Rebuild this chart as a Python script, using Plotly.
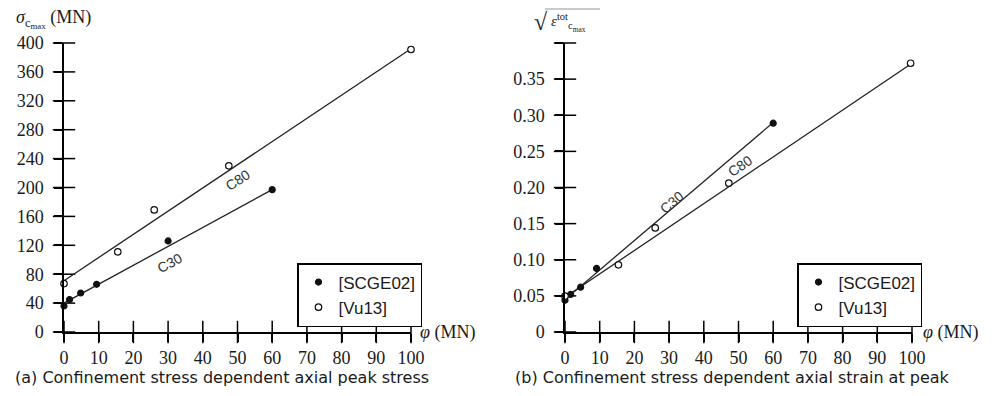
import plotly.graph_objects as go

# ---------------- data ----------------
# (a) peak stress
a_scge_x = [0, 1.6, 4.8, 9.4, 30, 60]
a_scge_y = [36, 45, 54, 66, 126, 197]
a_vu_x = [0, 15.5, 26, 47.5, 100]
a_vu_y = [67, 111, 169, 230, 391]
a_c80_fit_x = [0, 100]
a_c80_fit_y = [71, 392]
a_c30_fit_x = [0, 60]
a_c30_fit_y = [40, 197]

# (b) strain at peak
b_scge_x = [0, 1.6, 4.5, 9.1, 60]
b_scge_y = [0.044, 0.052, 0.062, 0.088, 0.289]
b_vu_x = [0, 15.4, 26, 47.2, 99.6]
b_vu_y = [0.0496, 0.093, 0.144, 0.206, 0.372]
b_c30_fit_x = [0, 60]
b_c30_fit_y = [0.045, 0.29]
b_c80_fit_x = [0, 100]
b_c80_fit_y = [0.048, 0.372]

x_ticks = [0, 10, 20, 30, 40, 50, 60, 70, 80, 90, 100]
a_y_ticks = [0, 40, 80, 120, 160, 200, 240, 280, 320, 360, 400]
b_y_ticks = [0, 0.05, 0.10, 0.15, 0.20, 0.25, 0.30, 0.35, 0.40]
b_y_ticktext = ["0", "0.05", "0.10", "0.15", "0.20", "0.25", "0.30", "0.35", ""]

SERIF = "Liberation Serif"
SANS = "Liberation Sans"
CAPTION = "DejaVu Sans"
INK = "#1a1a1a"

# page body has an 8px margin: build the figure 16px smaller and map reference pixels
OFF = 8
W, H = 996 - 2 * OFF, 396 - 2 * OFF
def px(x):
    return (x - OFF) / W
def py(y):
    return 1 - (y - OFF) / H

fig = go.Figure()

def line(x, y, xa, ya):
    fig.add_trace(go.Scatter(x=x, y=y, mode="lines", xaxis=xa, yaxis=ya,
                             line=dict(color="#222", width=1.3),
                             showlegend=False, hoverinfo="skip", cliponaxis=False))

def pts(x, y, xa, ya, filled, name, legend):
    fig.add_trace(go.Scatter(
        x=x, y=y, mode="markers", xaxis=xa, yaxis=ya, name=name, legend=legend,
        marker=dict(size=6 if filled else 6.5,
                    color="#111" if filled else "white",
                    line=dict(color="#111", width=1.2),
                    symbol="circle"),
        cliponaxis=False))

def tickmarks(vals, xa, ya, horizontal_axis):
    # crossing tick marks (drawn both sides of the axis line) at the tick values
    if horizontal_axis:
        x, y, sym = vals, [0] * len(vals), "line-ns"
    else:
        x, y, sym = [0] * len(vals), vals, "line-ew"
    fig.add_trace(go.Scatter(x=x, y=y, mode="markers", xaxis=xa, yaxis=ya,
                             marker=dict(symbol=sym, size=16,
                                         line=dict(color="#000", width=1.5)),
                             showlegend=False, hoverinfo="skip", cliponaxis=False))

tickmarks(x_ticks, "x", "y", True)
tickmarks(a_y_ticks, "x", "y", False)
tickmarks(x_ticks, "x2", "y2", True)
tickmarks(b_y_ticks, "x2", "y2", False)

line(a_c80_fit_x, a_c80_fit_y, "x", "y")
line(a_c30_fit_x, a_c30_fit_y, "x", "y")
pts(a_scge_x, a_scge_y, "x", "y", True, "[SCGE02]", "legend")
pts(a_vu_x, a_vu_y, "x", "y", False, "[Vu13]", "legend")
line(b_c30_fit_x, b_c30_fit_y, "x2", "y2")
line(b_c80_fit_x, b_c80_fit_y, "x2", "y2")
pts(b_scge_x, b_scge_y, "x2", "y2", True, "[SCGE02]", "legend2")
pts(b_vu_x, b_vu_y, "x2", "y2", False, "[Vu13]", "legend2")

tickfont = dict(family=SERIF, size=18, color=INK)

def axis(domain, anchor, rng, vals, text=None, standoff=0):
    d = dict(domain=domain, anchor=anchor, range=rng, tickmode="array", tickvals=vals,
             showgrid=False, zeroline=False, ticks="outside", ticklen=8, tickwidth=1.5,
             tickcolor="#000000", showline=True, linecolor="#000000", linewidth=1.5,
             tickfont=tickfont, fixedrange=True, automargin=False,
             ticklabelstandoff=standoff)
    if text is not None:
        d["ticktext"] = text
    return d

xdomA = [px(64), px(411)]
xdomB = [px(565), px(912)]
ydom = [py(332), py(43)]

legend_common = dict(bgcolor="white", bordercolor="black", borderwidth=1.5,
                     font=dict(family=SANS, size=17, color=INK),
                     xanchor="left", yanchor="top", itemsizing="trace",
                     tracegroupgap=0, itemwidth=30)

fig.update_layout(
    template="simple_white",
    width=W, height=H, margin=dict(l=0, r=0, t=0, b=0, autoexpand=False),
    paper_bgcolor="white", plot_bgcolor="white",
    xaxis=axis(xdomA, "y", [0, 100], x_ticks, standoff=1),
    yaxis=axis(ydom, "x", [0, 400], a_y_ticks, standoff=7),
    xaxis2=axis(xdomB, "y2", [0, 100], x_ticks, standoff=1),
    yaxis2=axis(ydom, "x2", [0, 0.4], b_y_ticks, b_y_ticktext, standoff=7),
    legend=dict(x=px(297), y=py(263), **legend_common),
    legend2=dict(x=px(797), y=py(263), **legend_common),
)

ann = []
def txt(text, x, y, xanchor="left", yanchor="middle", font=None, **kw):
    ann.append(dict(text=text, x=px(x), y=py(y), xref="paper", yref="paper",
                    xanchor=xanchor, yanchor=yanchor, showarrow=False,
                    font=font or dict(family=SERIF, size=18, color=INK), **kw))

txt("<i>σ</i><sub>c<sub>max</sub></sub> (MN)", 14, 19)
txt("<i>φ</i> (MN)", 418, 332)
txt("<i>φ</i> (MN)", 921, 332)
txt("√", 532, 22, font=dict(family=SERIF, size=24, color=INK))
txt("<i>ε</i><sup>tot</sup><sub>c<sub>max</sub></sub>", 549, 22,
    font=dict(family=SERIF, size=15, color=INK))
txt("(a) Confinement stress dependent axial peak stress", 13, 377,
    font=dict(family=CAPTION, size=16, color=INK))
txt("(b) Confinement stress dependent axial strain at peak", 513, 377,
    font=dict(family=CAPTION, size=16, color=INK))

lab_font = dict(family=SANS, size=14, color="#333")
def clab(text, x, y, xa, ya, ang):
    ann.append(dict(text=text, x=x, y=y, xref=xa, yref=ya, showarrow=False,
                    textangle=ang, font=lab_font))

clab("C80", 50.1, 210, "x", "y", -33.6)
clab("C30", 30.5, 95, "x", "y", -28.5)
clab("C30", 30.9, 0.1795, "x2", "y2", -40.4)
clab("C80", 50.4, 0.230, "x2", "y2", -34.2)

fig.update_layout(annotations=ann)
fig.add_shape(type="line", xref="paper", yref="paper",
              x0=px(545), x1=px(600), y0=py(9), y1=py(9),
              line=dict(color=INK, width=1.3))

fig.write_html("out.html")
